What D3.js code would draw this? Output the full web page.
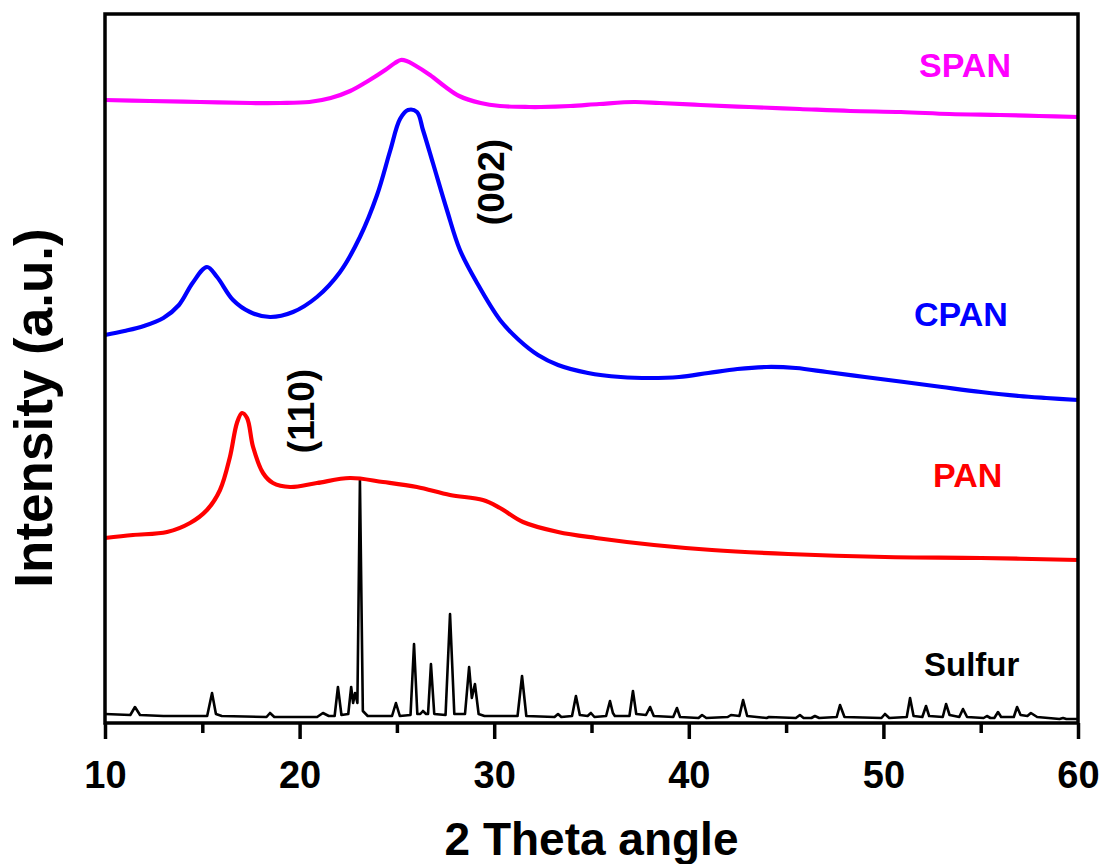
<!DOCTYPE html>
<html>
<head>
<meta charset="utf-8">
<script src="https://cdn.jsdelivr.net/npm/d3@7"></script>
<style>
  body { margin: 0; background: #fff; }
  text { font-family: "Liberation Sans", Arial, sans-serif; font-weight: bold; }
</style>
</head>
<body>
<div id="chart"></div>
<script>
// [2 theta, intensity (a.u.)]
const spanPoints = [
  [10, 623], [12.3, 622], [14.9, 621], [17.5, 620], [19.0, 620], [20.5, 621],
  [21.6, 625], [22.6, 632], [23.6, 643], [24.4, 653], [24.9, 660], [25.2, 663],
  [25.5, 662], [25.9, 658], [26.7, 648], [27.5, 636], [28.2, 627], [29.3, 620],
  [30.3, 617], [31.8, 616], [32.4, 616], [33.9, 617], [35.4, 619], [37.2, 621],
  [38.5, 620], [40.6, 618], [43.1, 616], [45.7, 614], [48.3, 612], [50.9, 611],
  [53.4, 609], [56.0, 608], [58.0, 607], [60, 606]
];

const cpanPoints = [
  [10, 388], [11, 392], [12, 397], [13, 405], [13.8, 418], [14.5, 440], [15.24, 456],
  [15.76, 446], [16.58, 423], [17.45, 411], [18.48, 406], [19.66, 411], [20.89, 426],
  [22.08, 451], [23.10, 486], [23.98, 528], [24.65, 572], [25.16, 604], [25.57, 613],
  [26.03, 611], [26.34, 593], [26.85, 560], [27.57, 513], [28.24, 473], [29.12, 440],
  [30.30, 403], [31.27, 383], [32.25, 368], [33.28, 358], [34.82, 350], [36.5, 346],
  [38.0, 345], [39.5, 346], [41.0, 350], [42.5, 354], [44.0, 356], [45.5, 355],
  [47.10, 351], [49.05, 346], [51.06, 341], [53.01, 336], [55.02, 331], [56.97, 327],
  [58.36, 325], [60, 323]
];

const panPoints = [
  [10, 185], [11.44, 188], [13.19, 191], [14.37, 200], [15.24, 213], [15.91, 233],
  [16.42, 266], [16.78, 300], [17.04, 310], [17.30, 305], [17.61, 276], [18.12, 250],
  [18.63, 240], [19.51, 236], [20.89, 240], [22.59, 245], [24.29, 241], [26.03, 236],
  [27.73, 228], [29.42, 223], [30.30, 215], [31.48, 201], [33.28, 191], [35.23, 185],
  [38.21, 178], [41.19, 173], [45.10, 169], [50.08, 166], [55.02, 165], [60, 163]
];

const sulfurPoints = [
  [10, 9], [11.3, 8], [11.54, 16], [11.8, 8], [13, 7], [15.25, 7], [15.5, 30], [15.7, 9],
  [16, 7], [18.3, 6], [18.48, 10], [18.7, 6], [20.9, 6], [21.2, 10], [21.5, 7], [21.8, 7],
  [21.97, 36], [22.15, 8], [22.5, 9], [22.65, 36], [22.75, 20], [22.85, 30], [22.97, 20],
  [23.1, 243], [23.25, 12], [23.5, 7], [24.75, 7], [24.95, 20], [25.15, 7], [25.7, 8],
  [25.88, 79], [26.05, 9], [26.2, 9], [26.34, 12], [26.5, 9], [26.6, 9], [26.75, 59],
  [26.92, 9], [27.5, 8], [27.73, 109], [27.95, 9], [28.5, 9], [28.71, 56], [28.85, 25],
  [29.01, 39], [29.2, 9], [29.5, 7], [31.2, 7], [31.43, 47], [31.65, 7], [33.1, 6],
  [33.28, 9], [33.45, 6], [34.0, 7], [34.2, 27], [34.4, 8], [34.8, 7], [34.97, 10],
  [35.15, 6], [35.75, 7], [35.95, 22], [36.1, 10], [36.2, 7], [36.95, 7], [37.13, 32],
  [37.3, 9], [37.8, 8], [38.01, 16], [38.2, 7], [39.2, 6], [39.39, 15], [39.55, 6],
  [40.5, 5], [40.68, 8], [40.9, 5], [42.0, 6], [42.17, 8], [42.6, 7], [42.79, 23],
  [43.0, 7], [44.0, 5], [44.12, 6], [45.5, 5], [45.71, 8], [45.9, 5], [46.3, 5],
  [46.48, 7], [46.7, 5], [47.6, 6], [47.77, 18], [48.0, 6], [49.9, 5], [50.08, 9],
  [50.3, 5], [51.2, 6], [51.37, 25], [51.55, 7], [52.0, 6], [52.19, 17], [52.35, 7],
  [53.05, 6], [53.22, 19], [53.4, 8], [53.9, 6], [54.09, 14], [54.3, 6], [55.15, 5],
  [55.32, 7], [55.5, 5], [55.7, 5], [55.89, 11], [56.05, 6], [56.7, 6], [56.87, 16],
  [57.05, 8], [57.4, 7], [57.58, 10], [57.9, 6], [59.05, 4], [59.23, 5], [59.4, 4], [60, 4]
];

const majorTicks = [10, 20, 30, 40, 50, 60];
const minorTicks = [15, 25, 35, 45, 55];

const seriesNames = ['Sulfur', 'PAN', 'CPAN', 'SPAN'];
const seriesColors = ['#000000', '#ff0000', '#0000ff', '#ff00ff'];

class XrdChart {
  constructor(selector) {
    this.root = d3.select(selector);
  }

  defaultProps = {
    width: 1107,
    height: 864,
    margin: { top: 14, right: 29, bottom: 141, left: 105 },
  };

  draw() {
    const { width, height, margin } = this.defaultProps;
    const w = width - margin.left - margin.right;
    const h = height - margin.top - margin.bottom;

    const x = d3.scaleLinear().domain([10, 60]).range([0, w]);
    const y = d3.scaleLinear().domain([0, 709]).range([h, 0]);

    const svg = this.root.append('svg')
      .attr('width', width)
      .attr('height', height);

    const plot = svg.append('g')
      .attr('transform', `translate(${margin.left},${margin.top})`);

    const line = d3.line()
      .x(d => x(d[0]))
      .y(d => y(d[1]));

    const series = [sulfurPoints, panPoints, cpanPoints, spanPoints];

    series.forEach((pts, i) => {
      const isSulfur = seriesNames[i] === 'Sulfur';
      plot.append('path')
        .datum(pts)
        .attr('fill', 'none')
        .attr('stroke', seriesColors[i])
        .attr('stroke-width', isSulfur ? 2.6 : 4.2)
        .attr('stroke-linejoin', 'round')
        .attr('d', line.curve(isSulfur ? d3.curveLinear : d3.curveCatmullRom.alpha(0.5))(pts));
    });

    // minor ticks first, then major ticks with labels
    plot.append('g')
      .attr('transform', `translate(0,${h})`)
      .call(d3.axisBottom(x).tickValues(minorTicks).tickSize(10).tickFormat(''))
      .call(g => g.select('.domain').remove())
      .call(g => g.selectAll('line').attr('stroke-width', 3.5));

    plot.append('g')
      .attr('transform', `translate(0,${h})`)
      .call(d3.axisBottom(x).tickValues(majorTicks).tickSize(16))
      .call(g => g.select('.domain').remove())
      .call(g => g.selectAll('line').attr('stroke-width', 3.5))
      .call(g => g.selectAll('text')
        .attr('y', 65)
        .attr('dy', null)
        .style('font-size', '38px')
        .style('font-weight', 'bold')
        .style('font-family', '"Liberation Sans", Arial, sans-serif')
        .attr('fill', '#000'));

    // frame
    plot.append('rect')
      .attr('width', w)
      .attr('height', h)
      .attr('fill', 'none')
      .attr('stroke', '#000')
      .attr('stroke-width', 3.5);

    // series labels
    const labels = [
      { text: 'SPAN', x: 919, y: 77, size: 34, color: seriesColors[3] },
      { text: 'CPAN', x: 914, y: 326, size: 34, color: seriesColors[2] },
      { text: 'PAN', x: 933, y: 487, size: 34, color: seriesColors[1] },
      { text: 'Sulfur', x: 924, y: 676, size: 33, color: seriesColors[0] },
    ];
    svg.selectAll('text.series')
      .data(labels)
      .join('text')
      .attr('class', 'series')
      .attr('x', d => d.x)
      .attr('y', d => d.y)
      .attr('fill', d => d.color)
      .style('font-size', d => d.size + 'px')
      .text(d => d.text);

    // peak annotations
    const peaks = [
      { text: '(002)', x: 491, y: 182 },
      { text: '(110)', x: 301, y: 411 },
    ];
    svg.selectAll('text.peak')
      .data(peaks)
      .join('text')
      .attr('class', 'peak')
      .attr('transform', d => `translate(${d.x},${d.y}) rotate(-90)`)
      .attr('text-anchor', 'middle')
      .attr('dy', '0.35em')
      .style('font-size', '37px')
      .text(d => d.text);

    // axis titles
    svg.append('text')
      .attr('x', margin.left + w / 2)
      .attr('y', 855)
      .attr('text-anchor', 'middle')
      .style('font-size', '46px')
      .text('2 Theta angle');

    svg.append('text')
      .attr('transform', `translate(52,408) rotate(-90)`)
      .attr('text-anchor', 'middle')
      .style('font-size', '53px')
      .text('Intensity (a.u.)');

    return this;
  }
}

new XrdChart('#chart').draw();
</script>
</body>
</html>
